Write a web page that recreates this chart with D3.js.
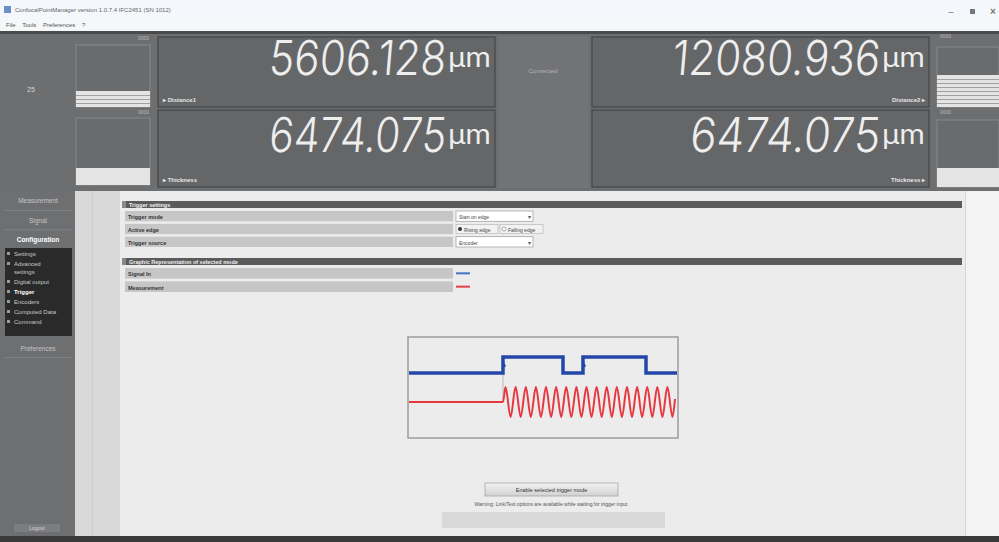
<!DOCTYPE html>
<html>
<head>
<meta charset="utf-8">
<script src="https://cdn.jsdelivr.net/npm/d3@7"></script>
<style>
body { margin: 0; background: #fff; overflow: hidden; }
svg { display: block; font-family: "Liberation Sans", Arial, sans-serif; }
text { white-space: pre; }
</style>
</head>
<body>
<svg id="app" width="999" height="542"></svg>
<script>
// readings shown in the four big displays
var readingValues = ["5606.128", "6474.075", "12080.936", "6474.075"];
var readingLabels = ["Distance1", "Thickness", "Distance2", "Thickness"];
var readingUnit = "\u00b5m";

// left navigation
var navItems = ["Measurement", "Signal", "Configuration"];
var subItems = ["Settings", "Advanced|settings", "Digital output", "Trigger", "Encoders", "Computed Data", "Command"];

// trigger settings table
var settingRows = ["Trigger mode", "Active edge", "Trigger source"];
var settingValues = ["Start on edge", "Rising edge", "Encoder"];
var graphicRows = ["Signal In", "Measurement"];

// graphic representation (time in px of the plot box, level 0/1)
var signalEdges = [0, 94, 154, 174, 237, 268];
var signalLevels = [0, 1, 0, 1, 0];
var measurementTimes = [0, 94, 96.5, 101.6, 106.6, 111.7, 116.8, 121.8, 126.9, 131.9, 137.0, 142.1,
    147.1, 152.2, 157.2, 162.3, 167.4, 172.4, 177.5, 182.5, 187.6, 192.7, 197.7, 202.8,
    207.8, 212.9, 218.0, 223.0, 228.1, 233.1, 238.2, 243.3, 248.3, 253.4, 258.4, 263.5, 266];
var measurementValues = [0, 0, 1, -1, 1, -1, 1, -1, 1, -1, 1, -1, 1, -1, 1, -1, 1, -1, 1, -1,
    1, -1, 1, -1, 1, -1, 1, -1, 1, -1, 1, -1, 1, -1, 1, -1, 0.2];

var svg = d3.select("#app");

function box(g, x, y, w, h, fill, stroke, sw) {
    return g.append("rect").attr("x", x).attr("y", y).attr("width", w).attr("height", h)
        .attr("fill", fill).attr("stroke", stroke || "none").attr("stroke-width", sw || 1);
}
function label(g, x, y, t, size, fill, anchor, weight) {
    return g.append("text").attr("x", x).attr("y", y).text(t)
        .attr("font-size", size).attr("fill", fill)
        .attr("text-anchor", anchor || "start").attr("font-weight", weight || "normal");
}

// ---- window chrome
box(svg, 0, 0, 999, 18, "#f4f7fb");
box(svg, 0, 18, 999, 13, "#f6f7f8");
box(svg, 4, 6, 7, 7, "#6a8fc4");
label(svg, 15, 12, "ConfocalPointManager version 1.0.7.4 IFC2451 (SN 1012)", 6, "#666");
label(svg, 6, 27, "File    Tools    Preferences    ?", 6, "#555");
label(svg, 951, 15, "\u2013", 9, "#666", "middle");
box(svg, 970, 9, 5, 5, "#777");
label(svg, 993, 15, "\u00d7", 10, "#777", "middle", "bold");

// ---- top display band
box(svg, 0, 31, 999, 160, "#6d6e70");
box(svg, 0, 31, 999, 3, "#4a4b4d");
label(svg, 27, 92, "25", 7, "#d8d8d8");

// small history boxes left
box(svg, 76, 45, 74, 62, "#6a6b6d", "#87888a");
box(svg, 76, 91, 74, 16, "#e4e4e4");
[95, 99, 103].forEach(function(y) { box(svg, 76, y, 74, 1, "#a0a0a0"); });
box(svg, 76, 118, 74, 67, "#6a6b6d", "#87888a");
box(svg, 76, 168, 74, 17, "#e4e4e4");
label(svg, 149, 40, "0000", 5, "#bbb", "end");
label(svg, 149, 114, "0000", 5, "#bbb", "end");

// small history boxes right
box(svg, 937, 47, 62, 60, "#6a6b6d", "#87888a");
box(svg, 937, 75, 62, 32, "#e4e4e4");
[79, 83, 87, 91, 95, 99, 103].forEach(function(y) { box(svg, 937, y, 62, 1, "#a0a0a0"); });
box(svg, 937, 120, 62, 67, "#6a6b6d", "#87888a");
box(svg, 937, 168, 62, 19, "#e4e4e4");
label(svg, 940, 38, "0000", 5, "#bbb");
label(svg, 940, 114, "0000", 5, "#bbb");

// centre status
box(svg, 498, 36, 91, 152, "#727375");
label(svg, 543, 73, "Connected", 6, "#b5b5b5", "middle");

// big readings
var panels = [
    { x: 158, y: 37, h: 70, left: true },
    { x: 158, y: 110, h: 77, left: true },
    { x: 592, y: 37, h: 70, left: false },
    { x: 592, y: 110, h: 77, left: false }
];
var digitWidth = [177, 177, 208, 190];
var digitBase = [75, 152, 75, 152];
var panelG = svg.selectAll("g.panel").data(panels).join("g").attr("class", "panel");
panelG.each(function(p, i) {
    var g = d3.select(this);
    box(g, p.x, p.y, 337, p.h, "#656668", "#4b4c4e", 1.5);
    var right = p.x + 287;
    g.append("text")
        .attr("transform", "translate(" + right + "," + digitBase[i] + ") skewX(-5)")
        .attr("text-anchor", "end")
        .attr("font-family", "Inter, Lato, 'DejaVu Sans', sans-serif")
        .attr("font-weight", 300)
        .attr("font-size", 48)
        .attr("fill", "#eeeeee")
        .attr("textLength", digitWidth[i])
        .attr("lengthAdjust", "spacingAndGlyphs")
        .text(readingValues[i]);
    g.append("text")
        .attr("x", right + 3).attr("y", digitBase[i] - 8)
        .attr("font-family", "Inter, Lato, 'DejaVu Sans', sans-serif")
        .attr("font-size", 26).attr("fill", "#eeeeee")
        .attr("textLength", 43).attr("lengthAdjust", "spacingAndGlyphs")
        .text(readingUnit);
    if (p.left) {
        label(g, p.x + 5, p.y + p.h - 5, "\u25b8 " + readingLabels[i], 6, "#e6e6e6", "start", "bold");
    } else {
        label(g, p.x + 333, p.y + p.h - 5, readingLabels[i] + " \u25b8", 6, "#e6e6e6", "end", "bold");
    }
});

// ---- lower area
box(svg, 0, 191, 999, 345, "#ececec");
box(svg, 75, 191, 45, 345, "#d9d9d9");
box(svg, 92, 191, 1, 345, "#cdcdcd");
box(svg, 965, 191, 34, 345, "#f3f3f3");
box(svg, 965, 191, 1, 345, "#d4d4d4");
box(svg, 0, 536, 999, 6, "#3a3a3a");

// left navigation
var nav = svg.append("g");
box(nav, 0, 191, 75, 345, "#6e6f71");
var navY = d3.scalePoint().domain(navItems).range([203, 242]);
navItems.forEach(function(n, i) {
    var active = n === "Configuration";
    label(nav, 38, navY(n), n, 6.5, active ? "#ffffff" : "#c4c4c4", "middle", active ? "bold" : "normal");
    box(nav, 4, navY(n) + 7, 68, 0.8, "#858688");
});
box(nav, 5, 248, 67, 88, "#2a2a2a");
var lineCount = subItems.map(function(s) { return s.split("|").length; });
var subY = [];
var cy = 256;
subItems.forEach(function(s, i) { subY.push(cy); cy += lineCount[i] * 8 + 2; });
subItems.forEach(function(s, i) {
    var active = s === "Trigger";
    box(nav, 7, subY[i] - 4, 3, 3, "#9a9a9a");
    s.split("|").forEach(function(part, k) {
        label(nav, 14, subY[i] + k * 8, part, 6, active ? "#ffffff" : "#c8c8c8", "start", active ? "bold" : "normal");
    });
});
label(nav, 38, 351, "Preferences", 6.5, "#c4c4c4", "middle");
box(nav, 4, 357, 68, 0.8, "#858688");
box(nav, 14, 524, 46, 8, "#7c7d7f");
label(nav, 37, 530, "Logout", 5, "#d4d4d4", "middle");

// ---- settings tables
var content = svg.append("g");
function header(y, t) {
    box(content, 122, y, 840, 7, "#5b5b5b");
    box(content, 122, y, 4, 7, "#888");
    label(content, 129, y + 5.5, t, 5.5, "#f0f0f0", "start", "bold");
}
header(201, "Trigger settings");
var rowY = d3.scaleBand().domain(settingRows).range([211, 247]).paddingInner(0.2);
settingRows.forEach(function(r, i) {
    var y = rowY(r), h = rowY.bandwidth();
    box(content, 125, y, 328, h, "#c6c6c6");
    label(content, 128, y + h - 2.5, r, 5.5, "#333", "start", "bold");
    if (i === 1) {
        box(content, 456, y + 0.5, 42, h - 1, "#f2f2f2", "#b0b0b0", 0.6);
        content.append("circle").attr("cx", 460).attr("cy", y + h / 2).attr("r", 2).attr("fill", "#333");
        label(content, 464, y + h - 2.5, settingValues[i], 5, "#444");
        box(content, 500, y + 0.5, 43, h - 1, "#f2f2f2", "#b0b0b0", 0.6);
        content.append("circle").attr("cx", 504).attr("cy", y + h / 2).attr("r", 2).attr("fill", "#fff").attr("stroke", "#777").attr("stroke-width", 0.6);
        label(content, 508, y + h - 2.5, "Falling edge", 5, "#444");
    } else {
        box(content, 456, y, 77, h, "#ffffff", "#9a9a9a", 0.7);
        label(content, 459, y + h - 2.5, settingValues[i], 5, "#444");
        label(content, 529, y + h - 2, "\u25be", 6, "#555", "middle");
    }
});

header(258, "Graphic Representation of selected mode");
var colors = ["#4a6fc8", "#e04048"];
var gRowY = d3.scaleBand().domain(graphicRows).range([268, 292]).paddingInner(0.2);
graphicRows.forEach(function(r, i) {
    var y = gRowY(r), h = gRowY.bandwidth();
    box(content, 125, y, 328, h, "#c6c6c6");
    label(content, 128, y + h - 2.5, r, 5.5, "#333", "start", "bold");
    box(content, 456, y + h / 2 - 1, 14, 2, colors[i]);
});

// ---- graphic
var plot = svg.append("g");
box(plot, 408, 337, 270, 101, "#ececec", "#9c9c9c", 1.5);
var x = d3.scaleLinear().domain([0, 268]).range([409, 677]);
var ySig = d3.scaleLinear().domain([0, 1]).range([373, 357]);
var yMeas = d3.scaleLinear().domain([-1, 1]).range([417, 387]);

plot.append("line")
    .attr("x1", x(94)).attr("x2", x(94))
    .attr("y1", ySig(0)).attr("y2", yMeas(0))
    .attr("stroke", "#b8b8b8").attr("stroke-width", 1);

var sigPts = signalEdges.map(function(t, i) { return [t, i < signalLevels.length ? signalLevels[i] : signalLevels[i - 1]]; });
plot.append("path")
    .attr("d", d3.line().x(function(d) { return x(d[0]); }).y(function(d) { return ySig(d[1]); }).curve(d3.curveStepAfter)(sigPts))
    .attr("fill", "none").attr("stroke", "#2347a8").attr("stroke-width", 3.5);

// small trigger marks on rising edges
signalEdges.forEach(function(t, i) {
    if (i > 0 && signalLevels[i] === 1 && signalLevels[i - 1] === 0) {
        plot.append("path")
            .attr("d", "M" + (x(t) - 1) + "," + ySig(0.3) + " l3,-2.5 l-1.5,-2.5")
            .attr("fill", "none").attr("stroke", "#2347a8").attr("stroke-width", 1.6);
    }
});

var measPts = measurementTimes.map(function(t, i) { return [t, measurementValues[i]]; });
plot.append("path")
    .attr("d", d3.line().x(function(d) { return x(d[0]); }).y(function(d) { return yMeas(d[1]); }).curve(d3.curveMonotoneX)(measPts))
    .attr("fill", "none").attr("stroke", "#e8383f").attr("stroke-width", 2);

// ---- button and notice
var grad = svg.append("defs").append("linearGradient").attr("id", "btn").attr("x1", 0).attr("x2", 0).attr("y1", 0).attr("y2", 1);
grad.append("stop").attr("offset", 0).attr("stop-color", "#f2f2f2");
grad.append("stop").attr("offset", 1).attr("stop-color", "#d2d2d2");
box(content, 485, 483, 133, 13, "url(#btn)", "#a8a8a8", 0.8);
label(content, 551.5, 492, "Enable selected trigger mode", 5.5, "#333", "middle");
label(content, 551, 506, "Warning: Link/Text options are available while waiting for trigger input", 5, "#555", "middle");
box(content, 442, 512, 223, 16, "#d9d9d9");
</script>
</body>
</html>
